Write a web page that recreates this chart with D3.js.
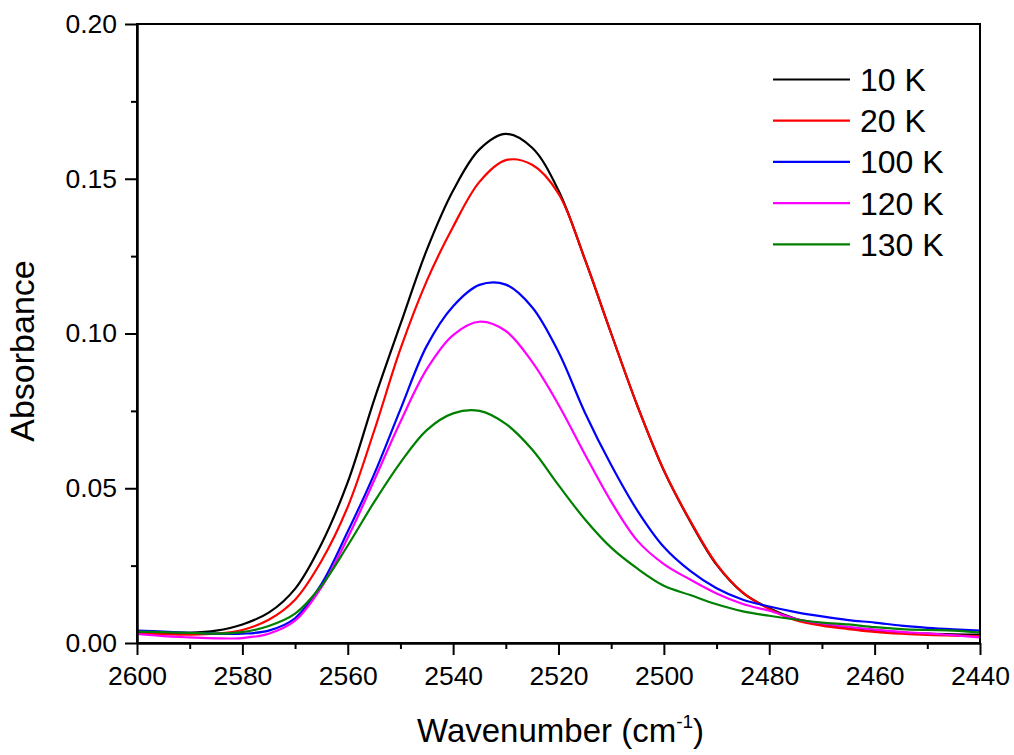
<!DOCTYPE html>
<html>
<head>
<meta charset="utf-8">
<script src="https://cdn.jsdelivr.net/npm/d3@7"></script>
<style>
  html, body { margin: 0; padding: 0; background: #fff; }
  svg { display: block; font-family: "Liberation Sans", Arial, sans-serif; }
</style>
</head>
<body>
<svg id="chart" width="1014" height="755"></svg>
<script>
// ---- data ----
const wavenumbers = [2600,2595,2590,2585,2580,2575,2570,2565,2560,2555,2550,2545,2540,2535,2530,2525,2520,2515,2510,2505,2500,2495,2490,2485,2480,2475,2470,2465,2460,2455,2450,2445,2440];
const seriesNames = ["10 K", "20 K", "100 K", "120 K", "130 K"];
const abs10K  = [0.0035,0.0033,0.0033,0.0040,0.0060,0.0098,0.0175,0.0320,0.0520,0.0785,0.1030,0.1270,0.1462,0.1595,0.1645,0.1600,0.1462,0.1240,0.1000,0.0765,0.0557,0.0393,0.0253,0.0162,0.0112,0.0078,0.0060,0.0049,0.0041,0.0034,0.0030,0.0028,0.0027];
const abs20K  = [0.0030,0.0028,0.0027,0.0030,0.0042,0.0075,0.0140,0.0265,0.0440,0.0685,0.0950,0.1170,0.1345,0.1490,0.1560,0.1545,0.1452,0.1240,0.1000,0.0765,0.0558,0.0395,0.0255,0.0163,0.0110,0.0074,0.0056,0.0045,0.0036,0.0030,0.0026,0.0024,0.0022];
const abs100K = [0.0040,0.0037,0.0033,0.0030,0.0030,0.0040,0.0080,0.0190,0.0360,0.0545,0.0755,0.0960,0.1088,0.1157,0.1158,0.1085,0.0940,0.0745,0.0575,0.0427,0.0310,0.0233,0.0177,0.0140,0.0118,0.0100,0.0086,0.0074,0.0066,0.0056,0.0049,0.0044,0.0040];
const abs120K = [0.0029,0.0022,0.0018,0.0015,0.0016,0.0030,0.0072,0.0180,0.0340,0.0525,0.0715,0.0885,0.0995,0.1038,0.1008,0.0908,0.0770,0.0610,0.0457,0.0330,0.0255,0.0205,0.0160,0.0126,0.0104,0.0078,0.0063,0.0052,0.0043,0.0036,0.0031,0.0025,0.0018];
const abs130K = [0.0037,0.0035,0.0033,0.0030,0.0035,0.0055,0.0095,0.0185,0.0315,0.0455,0.0583,0.0688,0.0742,0.0750,0.0708,0.0625,0.0510,0.0400,0.0308,0.0240,0.0185,0.0155,0.0125,0.0102,0.0088,0.0076,0.0066,0.0060,0.0051,0.0045,0.0042,0.0040,0.0034];
const seriesColors = ["#000000", "#ff0000", "#0000ff", "#ff00ff", "#008000"];
const xTicks = [2600,2580,2560,2540,2520,2500,2480,2460,2440];
const xMinorTicks = [2590,2570,2550,2530,2510,2490,2470,2450];
const yTicks = [0.00,0.05,0.10,0.15,0.20];
const yMinorTicks = [0.025,0.075,0.125,0.175];
const xTitle = "Wavenumber (cm";
const xTitleSup = "-1";
const yTitle = "Absorbance";

// ---- layout ----
const plotLeft = 137, plotRight = 980, plotTop = 24, plotBottom = 643;
const svg = d3.select("#chart");
const x = d3.scaleLinear().domain([2600, 2440]).range([plotLeft, plotRight]);
const y = d3.scaleLinear().domain([0, 0.2]).range([plotBottom, plotTop]);

const allSeries = [abs10K, abs20K, abs100K, abs120K, abs130K];

// curves
const line = d3.line()
  .x((d, i) => x(wavenumbers[i]))
  .y(d => y(d))
  .curve(d3.curveCatmullRom.alpha(0.5));

const plot = svg.append("g");
allSeries.forEach((vals, k) => {
  plot.append("path")
    .datum(vals)
    .attr("d", line)
    .attr("fill", "none")
    .attr("stroke", seriesColors[k])
    .attr("stroke-width", 2.2)
    .attr("stroke-linejoin", "round");
});

// frame
svg.append("rect")
  .attr("x", plotLeft).attr("y", plotTop)
  .attr("width", plotRight - plotLeft).attr("height", plotBottom - plotTop)
  .attr("fill", "none").attr("stroke", "#000").attr("stroke-width", 2);

// axes
const xAxis = svg.append("g").attr("transform", `translate(0,${plotBottom})`)
  .call(d3.axisBottom(x).tickValues(xTicks).tickFormat(d3.format("d")).tickSize(12).tickSizeOuter(0).tickPadding(11));
const xMinor = svg.append("g").attr("transform", `translate(0,${plotBottom})`)
  .call(d3.axisBottom(x).tickValues(xMinorTicks).tickFormat("").tickSize(6).tickSizeOuter(0));
const yAxis = svg.append("g").attr("transform", `translate(${plotLeft},0)`)
  .call(d3.axisLeft(y).tickValues(yTicks).tickFormat(d3.format(".2f")).tickSize(12).tickSizeOuter(0).tickPadding(8));
const yMinor = svg.append("g").attr("transform", `translate(${plotLeft},0)`)
  .call(d3.axisLeft(y).tickValues(yMinorTicks).tickFormat("").tickSize(6).tickSizeOuter(0));

[xAxis, xMinor, yAxis, yMinor].forEach(g => {
  g.select(".domain").attr("stroke", "#000").attr("stroke-width", 2);
  g.selectAll(".tick line").attr("stroke", "#000").attr("stroke-width", 2);
  g.selectAll(".tick text").attr("fill", "#000").attr("font-size", 26.5)
    .attr("font-family", "'Liberation Sans', Arial, sans-serif");
});

// axis titles
const xt = svg.append("text")
  .attr("x", (plotLeft + plotRight) / 2 + 2).attr("y", 742)
  .attr("text-anchor", "middle")
  .attr("font-size", 33).attr("fill", "#000");
xt.append("tspan").text(xTitle);
xt.append("tspan").text(xTitleSup).attr("font-size", 19).attr("dy", -14);
xt.append("tspan").text(")").attr("dy", 14);

svg.append("text")
  .attr("transform", `translate(34,351) rotate(-90)`)
  .attr("text-anchor", "middle")
  .attr("font-size", 34).attr("fill", "#000")
  .text(yTitle);

// legend
const legend = svg.append("g");
seriesNames.forEach((name, k) => {
  const ly = 79.5 + k * 41.2;
  legend.append("line")
    .attr("x1", 773).attr("x2", 850).attr("y1", ly).attr("y2", ly)
    .attr("stroke", seriesColors[k]).attr("stroke-width", 2.2);
  legend.append("text")
    .attr("x", 860).attr("y", ly + 11.5)
    .attr("font-size", 32).attr("fill", "#000")
    .text(name);
});
</script>
</body>
</html>
